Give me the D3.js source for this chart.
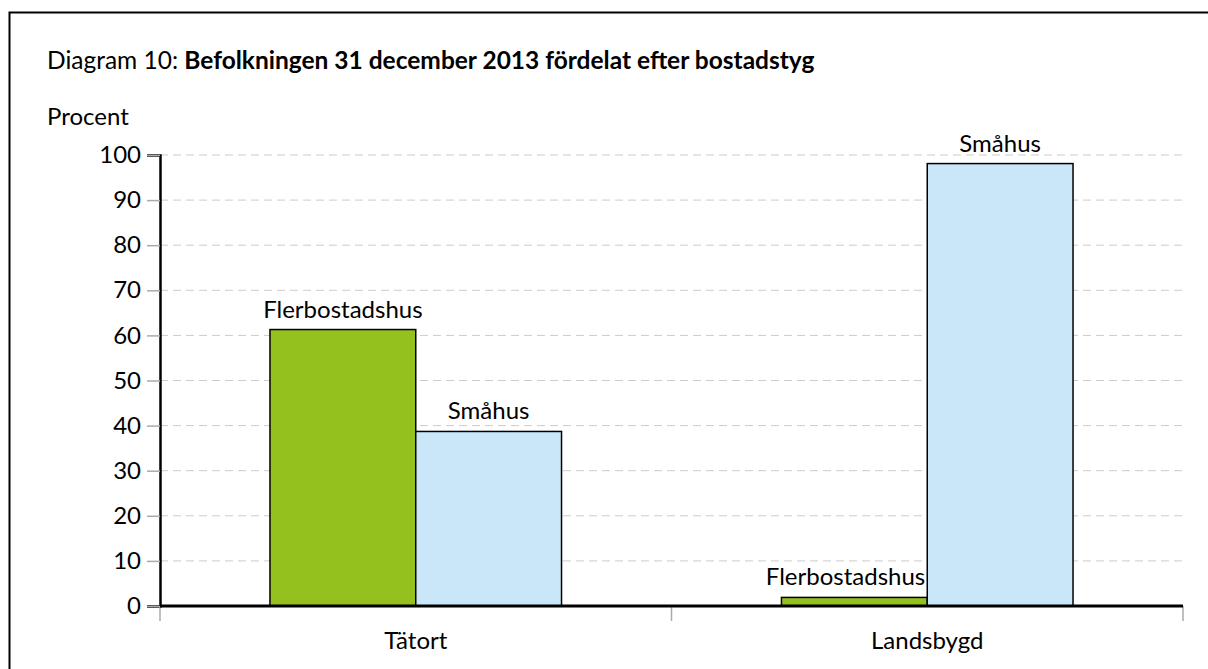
<!DOCTYPE html>
<html>
<head>
<meta charset="utf-8">
<script src="https://cdn.jsdelivr.net/npm/d3@7"></script>
<style>
  body { margin: 0; background: #fff; }
  text { font-family: Lato, "Open Sans", sans-serif; fill: #000; }
</style>
</head>
<body>
<div id="chart"></div>
<script>
// DATA
const categories = ["Tätort", "Landsbygd"];
const seriesNames = ["Flerbostadshus", "Småhus"];
const flerbostadshus = [61.3, 1.9];
const smahus = [38.7, 98.1];
const yTicks = [0, 10, 20, 30, 40, 50, 60, 70, 80, 90, 100];
const colors = ["#95c11f", "#c9e7f8"];

// SETUP
const W = 1208, H = 669;
const m = { left: 160, right: 1183, top: 155, bottom: 606 };
const fontSize = "24px";

const svg = d3.select("#chart").append("svg")
    .attr("width", W)
    .attr("height", H);

// frame
svg.append("rect")
    .attr("x", 9.5).attr("y", 12.5)
    .attr("width", W + 20).attr("height", H + 20)
    .attr("fill", "none").attr("stroke", "#000").attr("stroke-width", 2);

// title
const title = svg.append("text")
    .attr("x", 47).attr("y", 69)
    .style("font-size", "24.5px");
title.append("tspan").text("Diagram 10: ");
title.append("tspan").style("font-weight", "bold")
    .text("Befolkningen 31 december 2013 fördelat efter bostadstyg");

svg.append("text")
    .attr("x", 47).attr("y", 125)
    .style("font-size", fontSize)
    .text("Procent");

// scales
const x = d3.scaleBand().domain(categories).range([m.left, m.right]);
const y = d3.scaleLinear().domain([0, 100]).range([m.bottom, m.top]);
const barW = x.bandwidth() * 0.285;

// grid lines
svg.append("g").selectAll("line")
    .data(yTicks.filter(d => d > 0))
    .join("line")
    .attr("x1", m.left).attr("x2", m.right)
    .attr("y1", d => y(d)).attr("y2", d => y(d))
    .attr("stroke", "#cccccc")
    .style("stroke-dasharray", "8, 5");

// y axis
const yAxis = svg.append("g")
    .attr("transform", `translate(${m.left},0)`)
    .call(d3.axisLeft(y).tickValues(yTicks).tickSize(13).tickPadding(6));
yAxis.select(".domain").attr("stroke", "#000").attr("stroke-width", 2.5);
yAxis.selectAll(".tick line").attr("stroke", "#aaaaaa").attr("stroke-width", 1.5);
yAxis.selectAll(".tick text")
    .style("font-size", fontSize)
    .style("font-family", 'Lato, "Open Sans", sans-serif');

// category boundary ticks
const bounds = [m.left, ...categories.slice(1).map(c => x(c)), m.right];
svg.append("g").selectAll("line")
    .data(bounds)
    .join("line")
    .attr("x1", d => d).attr("x2", d => d)
    .attr("y1", m.bottom).attr("y2", m.bottom + 15)
    .attr("stroke", "#aaaaaa").attr("stroke-width", 1.5);

// category labels
svg.append("g").selectAll("text")
    .data(categories)
    .join("text")
    .attr("x", d => x(d) + x.bandwidth() / 2)
    .attr("y", 649)
    .attr("text-anchor", "middle")
    .style("font-size", fontSize)
    .text(d => d);

// bars
const rows = [];
categories.forEach((c, i) => {
    rows.push({ cat: c, s: 0, v: flerbostadshus[i], other: smahus[i] });
    rows.push({ cat: c, s: 1, v: smahus[i], other: flerbostadshus[i] });
});

const bx = d => x(d.cat) + x.bandwidth() / 2 + (d.s - 1) * barW;

svg.append("g").selectAll("rect")
    .data(rows)
    .join("rect")
    .attr("x", bx)
    .attr("y", d => y(d.v))
    .attr("width", barW)
    .attr("height", d => y(0) - y(d.v))
    .attr("fill", d => colors[d.s])
    .attr("stroke", "#000")
    .attr("stroke-width", 1.5);

// bar labels (a short left bar next to a tall one gets its label pushed left)
const squeezed = d => d.s === 0 && d.other - d.v > 10;
svg.append("g").selectAll("text")
    .data(rows)
    .join("text")
    .attr("x", d => squeezed(d) ? bx(d) + barW - 2 : bx(d) + barW / 2)
    .attr("y", d => y(d.v) - 12)
    .attr("text-anchor", d => squeezed(d) ? "end" : "middle")
    .style("font-size", fontSize)
    .text(d => seriesNames[d.s]);

// x axis line
svg.append("line")
    .attr("x1", m.left).attr("x2", m.right)
    .attr("y1", m.bottom).attr("y2", m.bottom)
    .attr("stroke", "#000").attr("stroke-width", 3);
</script>
</body>
</html>
